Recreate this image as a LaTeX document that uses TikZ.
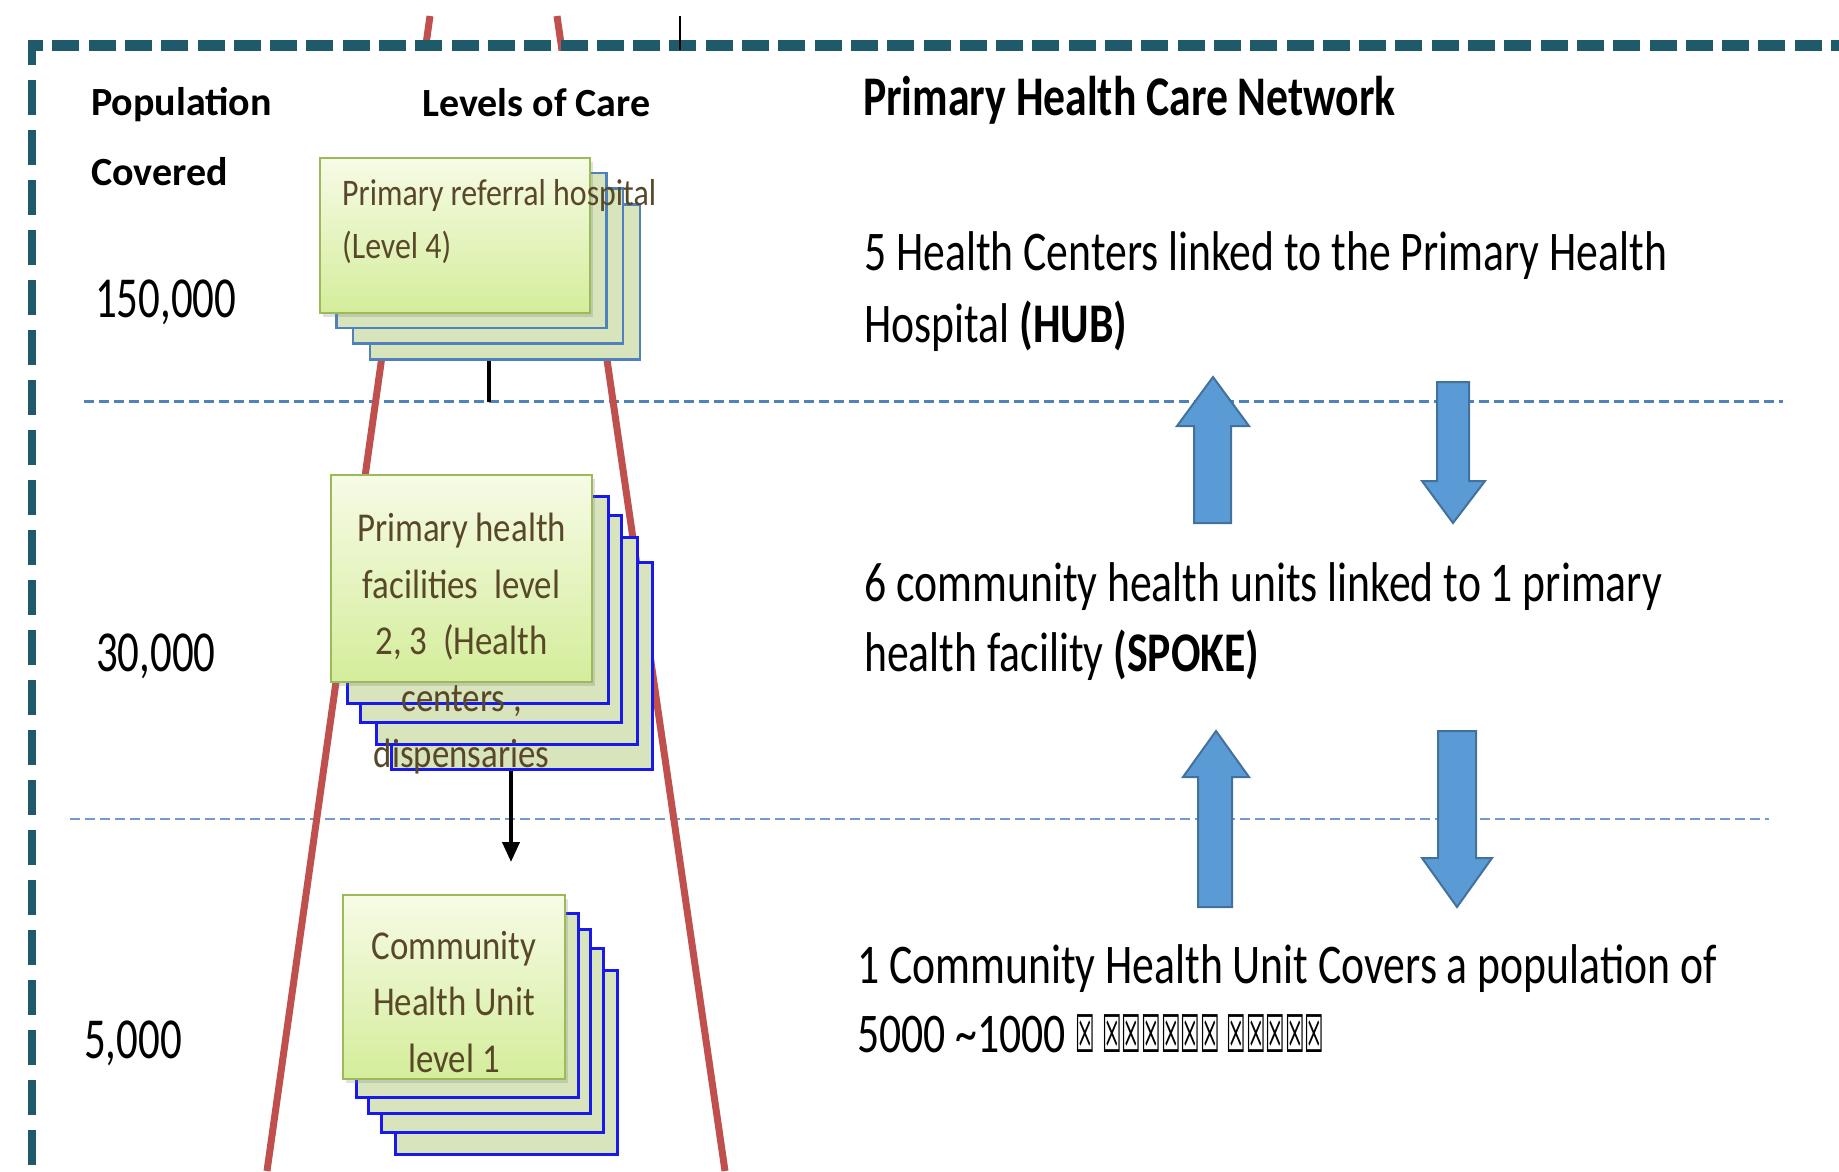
\documentclass[tikz,border=0pt]{standalone}
\usepackage{fontspec}
\setmainfont{Carlito}
\newfontfamily\narrowfont[FakeStretch=0.78]{Carlito}
\newfontfamily\boxfont[FakeStretch=0.85]{Carlito}
\newfontfamily\numfont[FakeStretch=0.74]{Carlito}
\newfontfamily\tofufont[FakeStretch=0.42]{DejaVu Sans}
\usetikzlibrary{positioning, arrows.meta, shadows}

\definecolor{framecol}{RGB}{30,90,105}
\definecolor{pyramidred}{RGB}{192,80,77}
\definecolor{levelblue}{RGB}{79,129,189}
\definecolor{arrowfill}{RGB}{91,155,213}
\definecolor{arrowline}{RGB}{65,113,156}
\definecolor{cardtop}{RGB}{247,251,230}
\definecolor{cardbottom}{RGB}{212,237,155}
\definecolor{cardline}{RGB}{155,187,89}
\definecolor{backfill}{RGB}{216,228,188}
\definecolor{backline}{RGB}{25,25,235}
\definecolor{cardtext}{RGB}{89,72,40}

\tikzset{
  frontcard/.style={rectangle, inner sep=0pt, draw=cardline, line width=2pt, top color=cardtop, bottom color=cardbottom,
    drop shadow={opacity=0.25, shadow xshift=3pt, shadow yshift=-4pt}},
  backcard/.style={rectangle, inner sep=0pt, draw=backline, line width=3pt, fill=backfill},
  topback/.style={backcard, draw=levelblue, line width=2.5pt},
  cardlabel/.style={inner sep=0pt, text=cardtext},
  headtext/.style={inner sep=0pt, anchor=base west, font=\bfseries\fontsize{40}{48}\selectfont},
  bodytext/.style={inner sep=0pt, anchor=base west, font=\narrowfont\fontsize{56}{67}\selectfont},
  numtext/.style={inner sep=0pt, anchor=base west, font=\numfont\fontsize{58}{70}\selectfont},
  levelline/.style={levelblue, line width=3pt, dash pattern=on 10pt off 5pt},
  pyramid/.style={pyramidred, line width=7pt},
  stub/.style={black, line width=4pt},
  blockarrow/.style={fill=arrowfill, draw=arrowline, line width=2pt, line join=miter}
}

\begin{document}
\begin{tikzpicture}[x=1pt, y=-1pt]
\useasboundingbox (0,0) rectangle (1839,1171);
\fill[white] (0,0) rectangle (1839,1171);

% level separators
\draw[levelline] (84,401) -- (1783,401);
\draw[levelline, levelblue!80, line width=2.5pt] (70,819) -- (1769,819);

% pyramid outline
\coordinate (apexL) at (430,16);
\coordinate (baseL) at (267,1171);
\coordinate (apexR) at (557,16);
\coordinate (baseR) at (725,1171);
\draw[pyramid] (apexL) -- (baseL);
\draw[pyramid] (apexR) -- (baseR);
% heading area hides the top of the pyramid
\fill[white] (385,51) rectangle (650,157);

% dashed frame
\draw[framecol, line width=11pt, dash pattern=on 27pt off 9.3pt, dash phase=12pt] (28,45) -- (1880,45);
\draw[framecol, line width=8pt, dash pattern=on 35pt off 15pt, dash phase=15pt] (32,45) -- (32,1200);

\coordinate (tickup) at (680,16);
\coordinate (tickdown) at (680,50);
\draw[black, line width=2pt] (tickup) -- (tickdown);

% level 4 stack
\coordinate (hosp) at (455,235.5);
\node (hosp4) [topback, minimum width=270pt, minimum height=155pt, xshift=50pt, yshift=-46.5pt] at (hosp) {};
\node (hosp3) [topback, minimum width=270pt, minimum height=155pt, xshift=33pt, yshift=-30.5pt] at (hosp) {};
\node (hosp2) [topback, minimum width=270pt, minimum height=155pt, xshift=16.5pt, yshift=-15pt] at (hosp) {};
\node (hosp1) [frontcard, minimum width=270pt, minimum height=155pt] at (hosp) {};

% level 2,3 stack
\coordinate (mid) at (461.5,578.5);
\node (mid5) [backcard, minimum width=261pt, minimum height=207pt, xshift=60.5pt, yshift=-87pt] at (mid) {};
\node (mid4) [backcard, minimum width=261pt, minimum height=207pt, xshift=45pt, yshift=-62pt] at (mid) {};
\node (mid3) [backcard, minimum width=261pt, minimum height=207pt, xshift=29.5pt, yshift=-40.5pt] at (mid) {};
\node (mid2) [backcard, minimum width=261pt, minimum height=207pt, xshift=16pt, yshift=-21.5pt] at (mid) {};
\node (mid1) [frontcard, minimum width=261pt, minimum height=207pt] at (mid) {};

% level 1 stack
\coordinate (unit) at (454,987);
\node (unit5) [backcard, minimum width=222pt, minimum height=184pt, xshift=52pt, yshift=-75.5pt] at (unit) {};
\node (unit4) [backcard, minimum width=222pt, minimum height=184pt, xshift=38.5pt, yshift=-53.5pt] at (unit) {};
\node (unit3) [backcard, minimum width=222pt, minimum height=184pt, xshift=25pt, yshift=-34.5pt] at (unit) {};
\node (unit2) [backcard, minimum width=222pt, minimum height=184pt, xshift=13.5pt, yshift=-18pt] at (unit) {};
\node (unit1) [frontcard, minimum width=222pt, minimum height=184pt] at (unit) {};

% links between stacks
\coordinate (hubstub) at (489,402);
\draw[stub] (hubstub |- hosp4.south) -- (hubstub);
\coordinate (midtip) at (511,862);
\draw[stub, -{Triangle[length=20pt, width=17pt]}] (midtip |- mid5.south) -- (midtip);

% card texts
\node (hospText) [cardlabel, align=left, anchor=north west, font=\boxfont\fontsize{37.5}{53}\selectfont,
  below right=22pt and 23pt of hosp1.north west] {Primary referral hospital\\(Level 4)};
\node (midText) [cardlabel, align=center, anchor=north, font=\boxfont\fontsize{41}{56.5}\selectfont,
  below=39pt of mid1.north] {Primary health\\facilities\ \ level\\2, 3\ \ (Health\\centers ,\\dispensaries};
\node (unitText) [cardlabel, align=center, anchor=north, font=\boxfont\fontsize{41}{56.5}\selectfont,
  below=37pt of unit1.north] {Community\\Health Unit\\level 1};

% referral arrows
\draw[blockarrow] (1194,523) -- (1194,426) -- (1177,426) -- (1213,377) -- (1249,426) -- (1231,426) -- (1231,523) -- cycle;
\draw[blockarrow] (1437,382) -- (1469,382) -- (1469,481) -- (1485,481) -- (1453,523) -- (1422,481) -- (1437,481) -- cycle;
\draw[blockarrow] (1198,907) -- (1198,777) -- (1183,777) -- (1216,731) -- (1249,777) -- (1232,777) -- (1232,907) -- cycle;
\draw[blockarrow] (1438,731) -- (1476,731) -- (1476,858) -- (1492,858) -- (1457,907) -- (1422,858) -- (1438,858) -- cycle;

% column headings
\node (popHead) [headtext] at (91,115) {Population};
\node (covHead) [headtext] at ([yshift=-70pt]popHead.base west) {Covered};
\node (levHead) [headtext] at (422,116) {Levels of Care};
\node (netHead) [bodytext, font=\narrowfont\bfseries\fontsize{56}{67}\selectfont] at (863,115) {Primary Health Care Network};

% population figures
\node (pop150) [numtext] at (95,317) {150,000};
\node (pop30) [numtext] at (96,671) {30,000};
\node (pop5) [numtext] at (84,1058) {5,000};

% network descriptions
\node (hubA) [bodytext] at (864,270) {5 Health Centers linked to the Primary Health};
\node (hubB) [bodytext] at ([yshift=-72pt]hubA.base west) {Hospital \textbf{(HUB)}};
\node (spokeA) [bodytext] at (864,601) {6 community health units linked to 1 primary};
\node (spokeB) [bodytext] at ([yshift=-70pt]spokeA.base west) {health facility \textbf{(SPOKE)}};
\node (unitA) [bodytext] at (857,983) {1 Community Health Unit Covers a population of};
\node (unitB) [bodytext] at ([yshift=-69pt]unitA.base west) {5000 \textasciitilde 1000 {\tofufont\fontsize{52}{60}\selectfont ☒ ☒☒☒☒☒☒ ☒☒☒☒☒}};
\end{tikzpicture}
\end{document}
